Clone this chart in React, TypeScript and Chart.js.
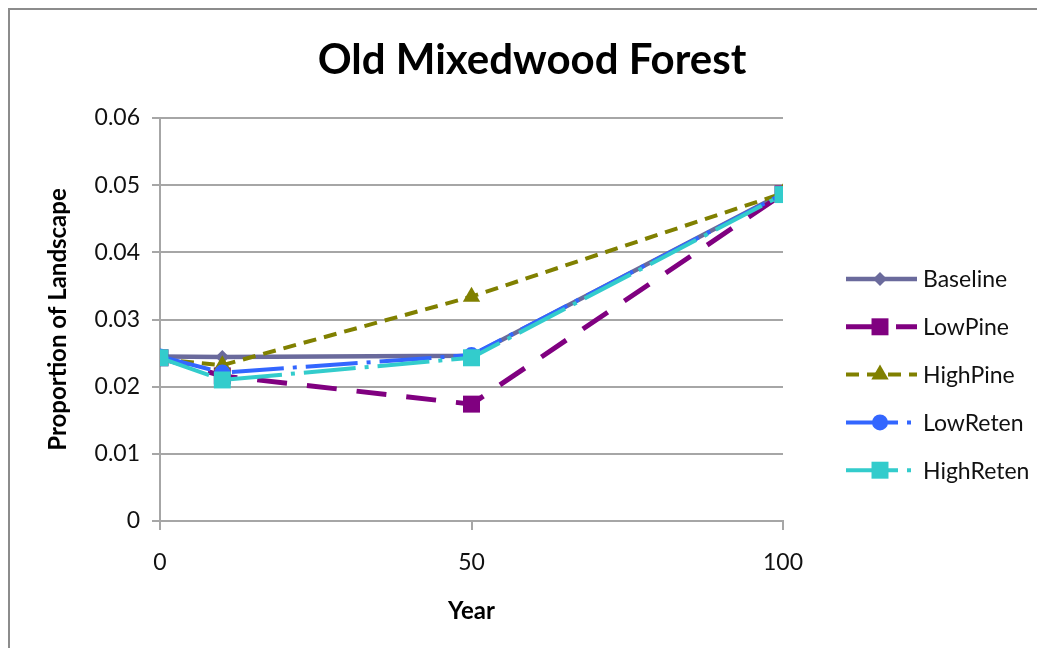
import React, { useEffect, useRef } from "react";
import { Chart, registerables } from "chart.js";

Chart.register(...registerables);

// Years sampled and proportion of landscape in old mixedwood forest per scenario
const years = [0, 10, 50, 100];
const baseline = [0.0245, 0.0244, 0.0246, 0.0488];
const lowPine = [0.0243, 0.0216, 0.0174, 0.0487];
const highPine = [0.0241, 0.0232, 0.0334, 0.0488];
const lowReten = [0.0245, 0.0221, 0.0247, 0.0487];
const highReten = [0.0243, 0.0210, 0.0243, 0.0486];

const seriesNames = ["Baseline", "LowPine", "HighPine", "LowReten", "HighReten"];
const yTickValues = [0, 0.01, 0.02, 0.03, 0.04, 0.05, 0.06];
const xTickValues = [0, 50, 100];
const chartTitle = "Old Mixedwood Forest";

const FONT = "Lato, 'Open Sans', sans-serif";

function drawMarker(ctx: CanvasRenderingContext2D, style: string, x: number, y: number, r: number) {
  ctx.beginPath();
  if (style === "rectRot") {
    ctx.moveTo(x, y - r);
    ctx.lineTo(x + r, y);
    ctx.lineTo(x, y + r);
    ctx.lineTo(x - r, y);
    ctx.closePath();
  } else if (style === "rect") {
    const s = Math.SQRT1_2 * r;
    ctx.rect(x - s, y - s, 2 * s, 2 * s);
  } else if (style === "triangle") {
    const h = r * 1.5;
    const w = r * Math.sqrt(3);
    ctx.moveTo(x, y - r);
    ctx.lineTo(x + w / 2, y - r + h);
    ctx.lineTo(x - w / 2, y - r + h);
    ctx.closePath();
  } else {
    ctx.arc(x, y, r, 0, Math.PI * 2);
  }
  ctx.fill();
}

// Title centred on the whole canvas, plus a legend whose entries show each line's dash with its marker
const titleAndLegend = {
  id: "titleAndLegend",
  afterDraw(chart: any) {
    const ctx: CanvasRenderingContext2D = chart.ctx;
    ctx.save();
    ctx.fillStyle = "#000";
    ctx.font = `bold 42px ${FONT}`;
    ctx.textAlign = "center";
    ctx.textBaseline = "middle";
    ctx.fillText(chartTitle, 522, 50);
    ctx.restore();

    const x0 = 836;
    const x1 = 907;
    const xm = 870;
    const top = 269;
    const step = 47.8;
    chart.data.datasets.forEach((ds: any, i: number) => {
      const y = top + i * step;
      ctx.save();
      ctx.strokeStyle = ds.borderColor;
      ctx.lineWidth = ds.borderWidth;
      ctx.lineCap = ds.borderCapStyle || "butt";
      ctx.setLineDash(ds.borderDash || []);
      ctx.beginPath();
      ctx.moveTo(x0, y);
      ctx.lineTo(x1, y);
      ctx.stroke();
      ctx.setLineDash([]);
      ctx.fillStyle = ds.pointBackgroundColor;
      drawMarker(ctx, ds.pointStyle, xm, y, ds.pointRadius);
      ctx.fillStyle = "#111";
      ctx.font = `23px ${FONT}`;
      ctx.textAlign = "left";
      ctx.textBaseline = "middle";
      ctx.fillText(ds.label, 913, y + 1);
      ctx.restore();
    });
  },
};

export default function App() {
  const canvasRef = useRef<HTMLCanvasElement | null>(null);

  useEffect(() => {
    const canvas = canvasRef.current;
    if (!canvas) return;

    const styles = [
      { color: "#6A6A9C", width: 4.5, dash: [] as number[], point: "rectRot", radius: 7, cap: "butt" },
      { color: "#800080", width: 5, dash: [30, 20], point: "rect", radius: 12, cap: "butt" },
      { color: "#808000", width: 4, dash: [13, 8], point: "triangle", radius: 10, cap: "butt" },
      { color: "#3366FF", width: 4, dash: [52, 9, 4, 9], point: "circle", radius: 8, cap: "butt" },
      { color: "#33CCCC", width: 4, dash: [52, 9, 4, 9], point: "rect", radius: 12, cap: "butt" },
    ];
    const values = [baseline, lowPine, highPine, lowReten, highReten];

    const datasets = values.map((vals, i) => ({
      label: seriesNames[i],
      data: years.map((yr, j) => ({ x: yr, y: vals[j] })),
      borderColor: styles[i].color,
      backgroundColor: styles[i].color,
      borderWidth: styles[i].width,
      borderDash: styles[i].dash,
      borderCapStyle: styles[i].cap,
      pointStyle: styles[i].point,
      pointRadius: styles[i].radius,
      pointBackgroundColor: styles[i].color,
      pointBorderColor: styles[i].color,
      pointBorderWidth: 0,
      tension: 0,
      order: 5 - i,
    }));

    const chart = new Chart(canvas, {
      type: "line",
      data: { datasets: datasets as any },
      plugins: [titleAndLegend],
      options: {
        animation: false,
        responsive: false,
        maintainAspectRatio: false,
        layout: { padding: { left: 0, right: 254, top: 108, bottom: 0 } },
        plugins: {
          legend: { display: false },
          tooltip: { enabled: false },
          title: { display: false },
        },
        scales: {
          x: {
            type: "linear",
            min: 0,
            max: 100,
            afterBuildTicks: (scale: any) => {
              scale.ticks = xTickValues.map((v) => ({ value: v }));
            },
            ticks: {
              color: "#111",
              font: { family: FONT, size: 23 },
              padding: 19,
            },
            grid: {
              drawOnChartArea: false,
              drawTicks: true,
              tickLength: 9,
              color: "#a6a6a6",
              lineWidth: 2,
            },
            border: { display: true, color: "#a6a6a6", width: 2 },
            title: {
              display: true,
              text: "Year",
              color: "#000",
              font: { family: FONT, size: 24, weight: "bold" },
              padding: { top: 0, bottom: 22 },
            },
            afterFit: (scale: any) => {
              scale.height = 638 - 511;
            },
          },
          y: {
            type: "linear",
            min: 0,
            max: 0.06,
            afterBuildTicks: (scale: any) => {
              scale.ticks = yTickValues.map((v) => ({ value: v }));
            },
            ticks: {
              color: "#111",
              font: { family: FONT, size: 23 },
              padding: 12,
              callback: (v: any) => (Number(v) === 0 ? "0" : Number(v).toFixed(2)),
            },
            grid: {
              drawTicks: true,
              tickLength: 8,
              color: "#a6a6a6",
              lineWidth: 2,
            },
            border: { display: true, color: "#a6a6a6", width: 2 },
            title: {
              display: true,
              text: "Proportion of Landscape",
              color: "#000",
              font: { family: FONT, size: 24, weight: "bold" },
              padding: { top: 34, bottom: 0 },
            },
            afterFit: (scale: any) => {
              scale.width = 150;
            },
          },
        },
      },
    });

    return () => chart.destroy();
  }, []);

  return (
    <div
      style={{
        position: "relative",
        width: 1027,
        height: 638,
        borderTop: "2px solid #8c8c8c",
        borderLeft: "2px solid #8c8c8c",
        background: "#fff",
      }}
    >
      <canvas ref={canvasRef} width={1027} height={638} style={{ display: "block" }} />
    </div>
  );
}
